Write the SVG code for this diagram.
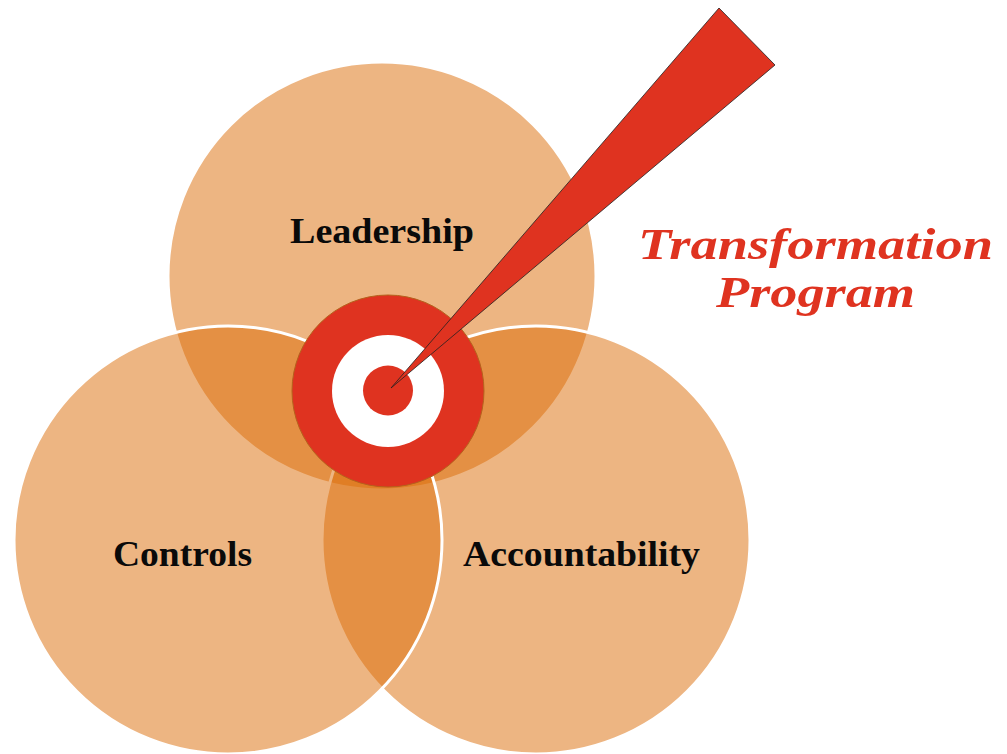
<svg xmlns="http://www.w3.org/2000/svg" width="1007" height="754" viewBox="0 0 1007 754">
  <style>
    .set { fill: #DC6B05; fill-opacity: 0.5; stroke: #FFFFFF; stroke-width: 3; }
    .label { font-family: "Liberation Serif", "DejaVu Serif", serif; font-weight: bold; font-size: 36px; fill: #0A0A0A; }
    .title { font-family: "Liberation Serif", "DejaVu Serif", serif; font-weight: bold; font-style: italic; font-size: 45px; fill: #DF3320; }
    .red { fill: #DF3320; }
  </style>

  <rect width="1007" height="754" fill="#FFFFFF"/>

  <!-- three overlapping sets -->
  <g id="leadership">
    <circle class="set" cx="382" cy="276" r="214"/>
    <text class="label" x="290" y="243" textLength="184" lengthAdjust="spacingAndGlyphs">Leadership</text>
  </g>
  <g id="accountability">
    <circle class="set" cx="536" cy="540" r="214"/>
    <text class="label" x="463" y="566" textLength="237" lengthAdjust="spacingAndGlyphs">Accountability</text>
  </g>
  <g id="controls">
    <circle class="set" cx="228" cy="540" r="214"/>
    <text class="label" x="113" y="566" textLength="139" lengthAdjust="spacingAndGlyphs">Controls</text>
  </g>

  <!-- bullseye at the common centre -->
  <g id="target">
    <circle class="red" cx="388" cy="391" r="96" stroke="#B5621C" stroke-width="1"/>
    <circle cx="388" cy="391" r="56" fill="#FFFFFF"/>
    <circle class="red" cx="388" cy="390.5" r="25"/>
  </g>

  <!-- pointer from the title into the bullseye -->
  <g id="connectors">
    <polygon class="red" points="391,388 719,8 775,65" stroke="#222222" stroke-width="0.8" stroke-linejoin="miter"/>
  </g>

  <g id="transformation-program">
    <text class="title" x="638" y="259" textLength="355" lengthAdjust="spacingAndGlyphs">Transformation</text>
    <text class="title" x="716" y="307" textLength="199" lengthAdjust="spacingAndGlyphs">Program</text>
  </g>
</svg>
